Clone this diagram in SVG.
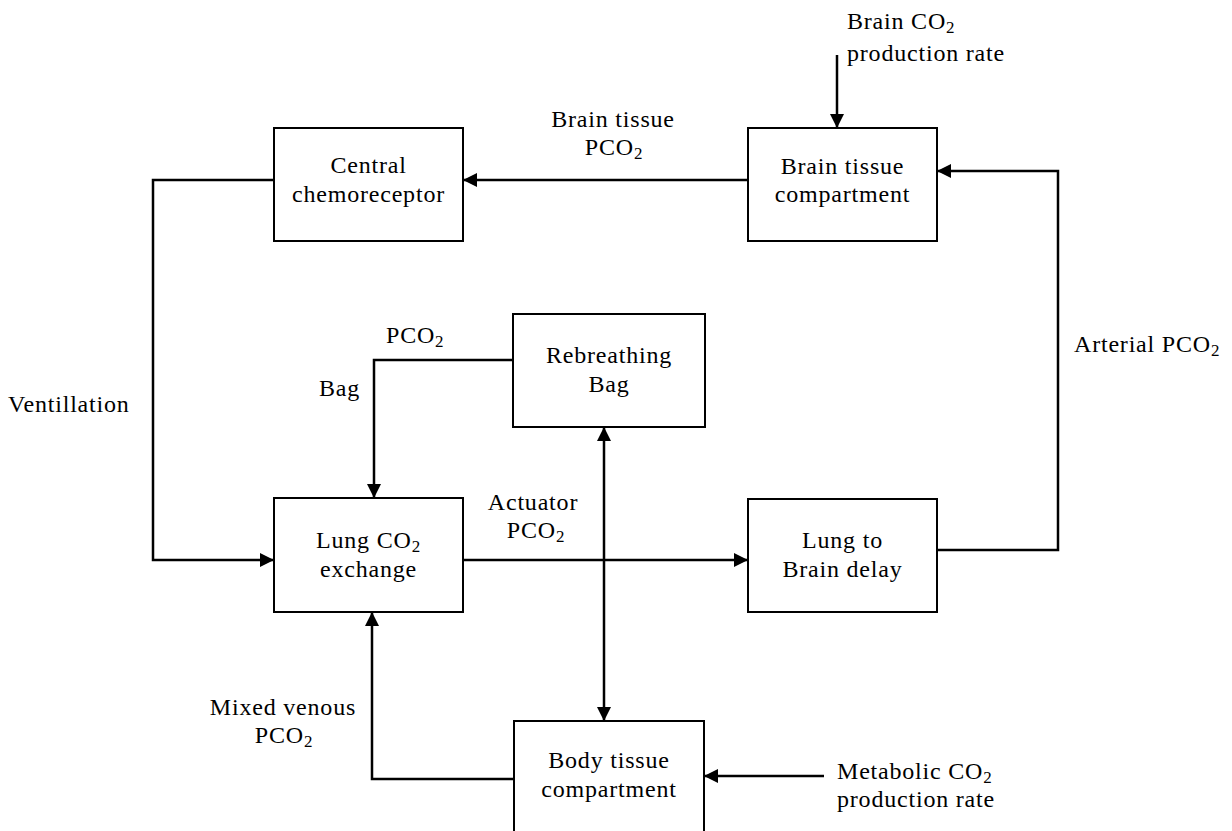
<svg xmlns="http://www.w3.org/2000/svg" width="1232" height="831" viewBox="0 0 1232 831">
  <style>
    .box { fill: #fff; stroke: #000; stroke-width: 2; }
    .wire { fill: none; stroke: #000; stroke-width: 2.5; }
    text { font-family: "Liberation Serif", "Times New Roman", serif; font-size: 24px; letter-spacing: 0.8px; fill: #000; }
    .c { text-anchor: middle; }
    .sub { font-size: 17px; }
  </style>
  <defs>
    <marker id="arrow" markerUnits="userSpaceOnUse" markerWidth="16" markerHeight="14" refX="14" refY="7" orient="auto-start-reverse">
      <path d="M0,0 L14,7 L0,14 Z" fill="#000"/>
    </marker>
  </defs>

  <rect width="1232" height="831" fill="#fff"/>

  <!-- connectors -->
  <g id="connectors">
    <path class="wire" d="M748,180 H463" marker-end="url(#arrow)"/>
    <path class="wire" d="M274,180 H153 V560 H274" marker-end="url(#arrow)"/>
    <path class="wire" d="M463,560 H748" marker-end="url(#arrow)"/>
    <path class="wire" d="M937,550 H1058 V171 H937" marker-end="url(#arrow)"/>
    <path class="wire" d="M837,55 V128" marker-end="url(#arrow)"/>
    <path class="wire" d="M513,360 H374 V498" marker-end="url(#arrow)"/>
    <path class="wire" d="M604,427 V721" marker-start="url(#arrow)" marker-end="url(#arrow)"/>
    <path class="wire" d="M514,779 H372 V612" marker-end="url(#arrow)"/>
    <path class="wire" d="M824,776 H704" marker-end="url(#arrow)"/>
  </g>

  <!-- connector labels -->
  <g id="labels">
    <text x="847" y="29">Brain CO<tspan class="sub" dy="4">2</tspan></text>
    <text x="847" y="61">production rate</text>
    <text class="c" x="613" y="127">Brain tissue</text>
    <text class="c" x="614" y="155">PCO<tspan class="sub" dy="4">2</tspan></text>
    <text x="1074" y="352">Arterial PCO<tspan class="sub" dy="4">2</tspan></text>
    <text x="386" y="343">PCO<tspan class="sub" dy="4">2</tspan></text>
    <text x="319" y="396">Bag</text>
    <text x="8" y="412">Ventillation</text>
    <text class="c" x="533" y="510">Actuator</text>
    <text class="c" x="536" y="538">PCO<tspan class="sub" dy="4">2</tspan></text>
    <text class="c" x="283" y="715">Mixed venous</text>
    <text class="c" x="284" y="743">PCO<tspan class="sub" dy="4">2</tspan></text>
    <text x="837" y="779">Metabolic CO<tspan class="sub" dy="4">2</tspan></text>
    <text x="837" y="807">production rate</text>
  </g>

  <!-- blocks -->
  <g id="central-chemoreceptor">
    <rect class="box" x="274" y="128" width="189" height="113"/>
    <text class="c" x="368.5" y="173">Central</text>
    <text class="c" x="368.5" y="202">chemoreceptor</text>
  </g>
  <g id="brain-tissue-compartment">
    <rect class="box" x="748" y="128" width="189" height="113"/>
    <text class="c" x="842.5" y="174">Brain tissue</text>
    <text class="c" x="842.5" y="202">compartment</text>
  </g>
  <g id="rebreathing-bag">
    <rect class="box" x="513" y="314" width="192" height="113"/>
    <text class="c" x="609" y="363">Rebreathing</text>
    <text class="c" x="609" y="392">Bag</text>
  </g>
  <g id="lung-co2-exchange">
    <rect class="box" x="274" y="498" width="189" height="114"/>
    <text class="c" x="368.5" y="548">Lung CO<tspan class="sub" dy="4">2</tspan></text>
    <text class="c" x="368.5" y="577">exchange</text>
  </g>
  <g id="lung-to-brain-delay">
    <rect class="box" x="748" y="499" width="189" height="113"/>
    <text class="c" x="842.5" y="548">Lung to</text>
    <text class="c" x="842.5" y="577">Brain delay</text>
  </g>
  <g id="body-tissue-compartment">
    <rect class="box" x="514" y="721" width="190" height="130"/>
    <text class="c" x="609" y="768">Body tissue</text>
    <text class="c" x="609" y="797">compartment</text>
  </g>
</svg>
